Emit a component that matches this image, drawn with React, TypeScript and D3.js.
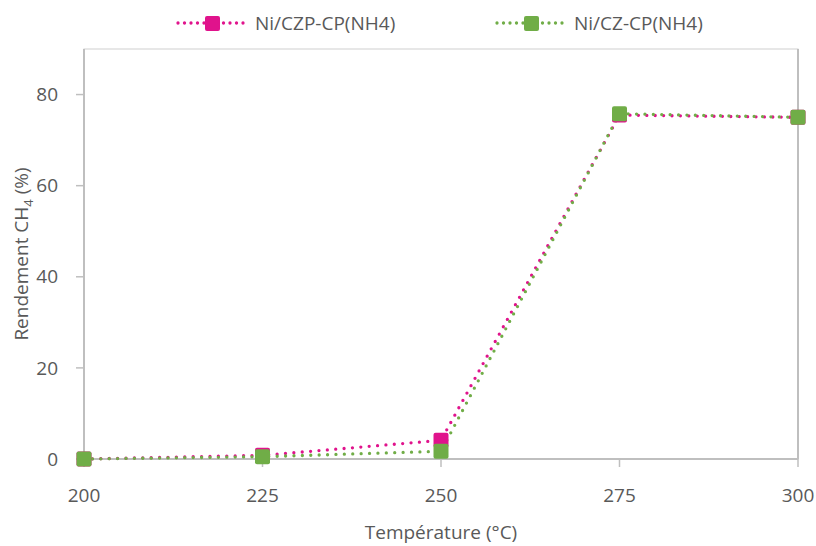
import React from "react";
import * as d3 from "d3";

const temps = [200, 225, 250, 275, 300];
const czp = [0, 0.8, 4.1, 75.5, 75.0];
const cz = [0, 0.5, 1.7, 75.8, 75.0];
const xTicks = [200, 225, 250, 275, 300];
const yTicks = [0, 20, 40, 60, 80];
const seriesNames = ["Ni/CZP-CP(NH4)", "Ni/CZ-CP(NH4)"];
const colors = ["#e0138c", "#70ad47"];

const W = 816, H = 546;
const m = { l: 84, r: 18, t: 49, b: 87 };
const font = "'Open Sans', 'Noto Sans', sans-serif";
const fs = 19;

export default function App() {
  const x = d3.scaleLinear().domain([200, 300]).range([m.l, W - m.r]);
  const y = d3.scaleLinear().domain([0, 90]).range([H - m.b, m.t]);
  const line = d3.line<number>().x((_, i) => x(temps[i])).y((d) => y(d));
  const series = [czp, cz];
  const legendX = [178, 497];
  return (
    <svg width={W} height={H} style={{ position: "absolute", left: 0, top: 0 }} fontFamily={font}>
      <rect width={W} height={H} fill="#fff" />
      <rect x={m.l} y={m.t} width={W - m.l - m.r} height={H - m.t - m.b} fill="none" stroke="#d0d0d0" strokeWidth={1} />
      <line x1={m.l} x2={m.l} y1={m.t} y2={y(0)} stroke="#bfbfbf" strokeWidth={2} />
      <line x1={m.l} x2={W - m.r} y1={y(0)} y2={y(0)} stroke="#bfbfbf" strokeWidth={2} />
      <line x1={W - m.r} x2={W - m.r} y1={m.t} y2={y(0)} stroke="#bfbfbf" strokeWidth={2} />
      {yTicks.map((t) => (
        <g key={t}>
          <line x1={m.l - 8} x2={m.l} y1={y(t)} y2={y(t)} stroke="#bfbfbf" strokeWidth={1.5} />
          <text x={m.l - 26} y={y(t)} dy="0.35em" textAnchor="end" fontSize={fs} fill="#595959">{t}</text>
        </g>
      ))}
      {xTicks.map((t) => (
        <g key={t}>
          <line x1={x(t)} x2={x(t)} y1={y(0)} y2={y(0) + 8} stroke="#bfbfbf" strokeWidth={1.5} />
          <text x={x(t)} y={y(0) + 43} textAnchor="middle" fontSize={fs} fill="#595959">{t}</text>
        </g>
      ))}
      <text x={441} y={539} textAnchor="middle" fontSize={fs} fill="#595959">Température (°C)</text>
      <text transform={`translate(28,${254}) rotate(-90)`} textAnchor="middle" fontSize={fs} fill="#595959">
        Rendement CH<tspan fontSize={13} dy={5}>4</tspan><tspan dy={-5}> (%)</tspan>
      </text>
      {series.map((s, k) => (
        <path key={k} d={line(s) || ""} fill="none" stroke={colors[k]} strokeWidth={3.3} strokeDasharray="0 8.4" strokeLinecap="round" />
      ))}
      {series.map((s, k) =>
        s.map((v, i) => (
          <rect key={`${k}-${i}`} x={x(temps[i]) - 7.5} y={y(v) - 7.5} width={15} height={15} rx={2} fill={colors[k]} />
        ))
      )}
      {seriesNames.map((n, k) => (
        <g key={n}>
          <line x1={legendX[k]} x2={legendX[k] + 69} y1={23} y2={23} stroke={colors[k]} strokeWidth={3.3} strokeDasharray="0 6.5" strokeLinecap="round" />
          <rect x={legendX[k] + 27} y={16} width={15} height={15} rx={2} fill={colors[k]} />
          <text x={legendX[k] + 77} y={23} dy="0.35em" fontSize={fs} fill="#595959">{n}</text>
        </g>
      ))}
    </svg>
  );
}
